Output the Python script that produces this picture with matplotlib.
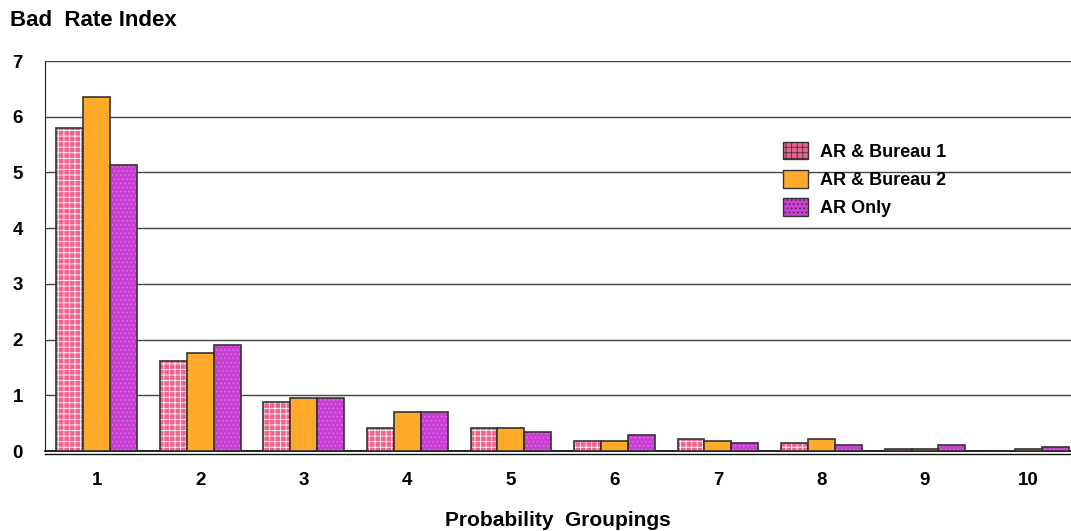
import matplotlib.pyplot as plt
import matplotlib.transforms as mtransforms
from matplotlib.patches import Rectangle
import numpy as np

plt.rcParams['font.family'] = ['Liberation Sans', 'DejaVu Sans']
plt.rcParams['font.weight'] = 'bold'
plt.rcParams['axes.labelweight'] = 'bold'
plt.rcParams['hatch.linewidth'] = 0.6

groups = ['1', '2', '3', '4', '5', '6', '7', '8', '9', '10']
bureau1 = [5.80, 1.62, 0.88, 0.42, 0.42, 0.18, 0.215, 0.145, 0.036, 0.0]
bureau2 = [6.36, 1.76, 0.96, 0.70, 0.42, 0.18, 0.18, 0.215, 0.036, 0.036]
ar_only = [5.13, 1.90, 0.96, 0.70, 0.35, 0.29, 0.145, 0.11, 0.11, 0.072]

x = np.arange(1, len(groups) + 1)
w = 0.26

fig = plt.figure(figsize=(10.71, 5.31), dpi=100)
ax = fig.add_axes([45/1071, 80/531, 1026/1071, 390/531])

# pink squares with white grid
ax.bar(x - w, bureau1, w, color='#F0648C', edgecolor='white', hatch='+++',
       linewidth=0, zorder=3)
ax.bar(x - w, bureau1, w, fill=False, edgecolor='#333333', linewidth=1.2, zorder=4)
ax.bar(x, bureau2, w, color='#FFAA2A', edgecolor='#333333', linewidth=1.2, zorder=4)
ax.bar(x + w, ar_only, w, color='#C93FD4', edgecolor='#D977E0', hatch='....',
       linewidth=0, zorder=3)
ax.bar(x + w, ar_only, w, fill=False, edgecolor='#333333', linewidth=1.2, zorder=4)

# legend handles
h1 = Rectangle((0, 0), 1, 1, facecolor='#F0648C', edgecolor='#333333', hatch='+++')
h2 = Rectangle((0, 0), 1, 1, facecolor='#FFAA2A', edgecolor='#333333')
h3 = Rectangle((0, 0), 1, 1, facecolor='#C93FD4', edgecolor='#333333', hatch='....')
leg = ax.legend([h1, h2, h3], ['AR & Bureau 1', 'AR & Bureau 2', 'AR Only'],
                loc='upper left', bbox_to_anchor=(783/1071, 1 - 142/531),
                bbox_transform=fig.transFigure, frameon=False,
                fontsize=13, handlelength=1.4, handleheight=1.1,
                labelspacing=0.52, handletextpad=0.65, borderpad=0,
                borderaxespad=0)

ax.set_xlim(0.5, 10.41)
ax.set_ylim(0, 7)
ax.set_yticks(range(0, 8))
ax.set_xticks(x)
ax.set_xticklabels(groups)
ax.yaxis.grid(True, color='#444444', linewidth=1.0, zorder=0)
ax.set_axisbelow(True)
ax.tick_params(axis='both', length=0, labelsize=13.5)
ax.tick_params(axis='x', pad=15)
ax.tick_params(axis='y', pad=16)

for s in ['top', 'right']:
    ax.spines[s].set_visible(False)
ax.spines['left'].set_color('#222222')
ax.spines['bottom'].set_color('#111111')
ax.spines['bottom'].set_linewidth(1.3)

# second line under the x axis
off = mtransforms.offset_copy(ax.transAxes, fig=fig, x=0, y=-2.5, units='points')
ax.plot([0, 1], [0, 0], color='#111111', linewidth=1.0, transform=off, clip_on=False)

ax.set_xlabel('Probability  Groupings', fontsize=15, labelpad=16)
fig.text(10/1071, 1 - 20/531, 'Bad  Rate Index', fontsize=16, va='center', ha='left')

fig.savefig('out.png', dpi=100)
